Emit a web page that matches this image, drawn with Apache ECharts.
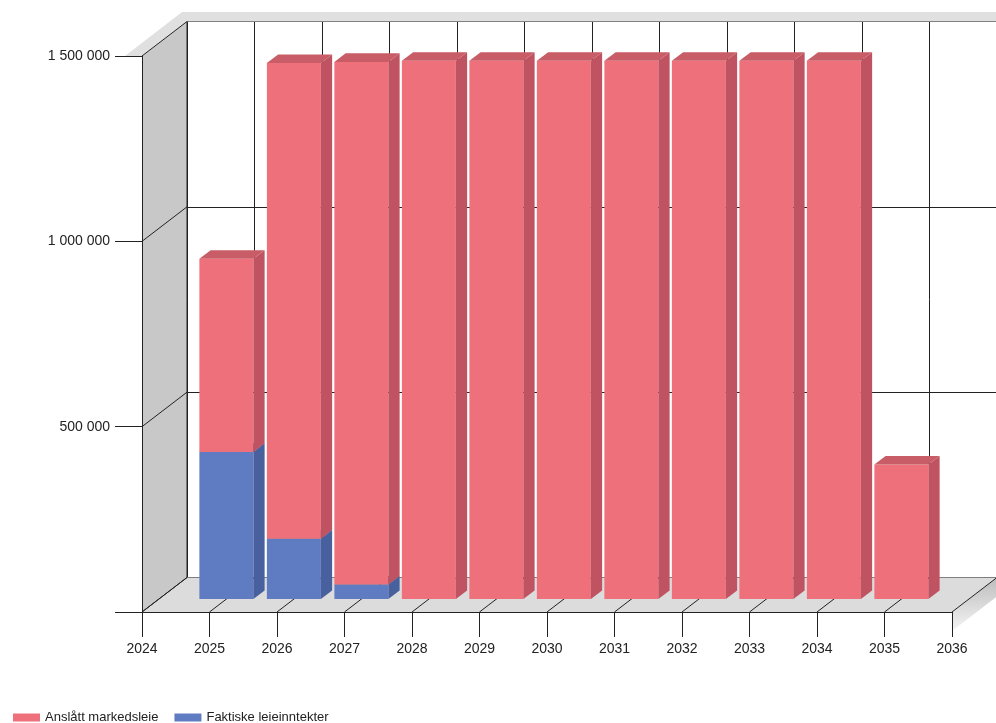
<!DOCTYPE html>
<html>
<head>
<meta charset="UTF-8">
<title>Leieinntekter</title>
<script src="https://cdn.jsdelivr.net/npm/echarts@6/dist/echarts.min.js"></script>
<style>html,body{margin:0;padding:0;background:#fff;}</style>
</head>
<body>
<div id="chart" style="width:996px;height:723px;"></div>
<script>
// verdier lest av figuren
var years = [2025, 2026, 2027, 2028, 2029, 2030, 2031, 2032, 2033, 2034, 2035];
var faktiske = [397000, 163000, 39000, 0, 0, 0, 0, 0, 0, 0, 0];
var anslatt = [521000, 1283000, 1410000, 1452000, 1452000, 1452000, 1452000, 1452000, 1452000, 1452000, 363000];
var xMin = 2024, xMax = 2036;
var yMax = 1500000, yStep = 500000;
var names = ['Anslått markedsleie', 'Faktiske leieinntekter'];

// skrå projeksjon (piksler fra front til bakvegg)
var DX = 45, DY = -34.5;
var LINE = '#222';

var chart = echarts.init(document.getElementById('chart'));

// stablet: blå nederst, rød oppå
var blueData = [], redData = [];
for (var i = 0; i < years.length; i++) {
	blueData.push([years[i], 0, faktiske[i]]);
	redData.push([years[i], faktiske[i], faktiske[i] + anslatt[i]]);
}

function fmt(v) {
	if (v === 0) return '';
	return String(v).replace(/\B(?=(\d{3})+(?!\d))/g, ' ');
}

function line(a, b) {
	return {type: 'line', shape: {x1: a[0], y1: a[1], x2: b[0], y2: b[1]}, style: {stroke: LINE, lineWidth: 1}};
}

// vegger og gulv
function backItem(params, api) {
	var o = api.coord([xMin, 0]), e = api.coord([xMax, 0]), t = api.coord([xMin, yMax]);
	var kids = [];
	kids.push({type: 'polygon', shape: {points: [[t[0], t[1]], [t[0] + DX, t[1] + DY], [o[0] + DX, o[1] + DY], [o[0], o[1]]]},
		style: {fill: '#c8c8c8'}});
	kids.push({type: 'polygon', shape: {points: [[o[0], o[1]], [e[0], e[1]], [e[0] + DX, e[1] + DY], [o[0] + DX, o[1] + DY]]},
		style: {fill: '#dcdcdc'}});
	kids.push({type: 'polygon', shape: {points: [[e[0], e[1]], [e[0] + DX, e[1] + DY], [e[0] + DX, e[1] + DY + 19], [e[0], e[1] + 19]]},
		style: {fill: new echarts.graphic.LinearGradient(0, 0, 0, 1, [{offset: 0, color: '#bdbdbd'}, {offset: 1, color: '#f4f4f4'}])}});
	kids.push({type: 'polygon', shape: {points: [[t[0] - 17, t[1]], [t[0], t[1]], [t[0] + DX, t[1] + DY], [e[0] + DX + 10, t[1] + DY],
		[e[0] + DX + 10, t[1] + DY - 9.5], [t[0] + DX - 5, t[1] + DY - 9.5]]}, style: {fill: '#e0e0e0'}});
	for (var v = 0; v <= yMax; v += yStep) {
		var p = api.coord([xMin, v]);
		kids.push(line(p, [p[0] + DX, p[1] + DY]));
	}
	for (var x = xMin; x <= xMax; x++) {
		var q = api.coord([x, 0]);
		kids.push(line(q, [q[0] + DX, q[1] + DY]));
	}
	kids.push(line([t[0] + DX, t[1] + DY], [o[0] + DX, o[1] + DY]));
	return {type: 'group', children: kids};
}

function barItem(front, side, top) {
	return function (params, api) {
		var x = api.value(0), y0 = api.value(1), y1 = api.value(2);
		if (y1 <= y0) return;
		var w = api.size([1, 0])[0] * 0.8;
		var b = api.coord([x, y0]), t = api.coord([x, y1]);
		var f = 0.375, k = 0.625;
		var L = b[0] - w / 2 + f * DX, R = b[0] + w / 2 + f * DX;
		var yb = b[1] + f * DY, yt = t[1] + f * DY;
		var ox = (k - f) * DX, oy = (k - f) * DY;
		return {type: 'group', children: [
			{type: 'rect', shape: {x: L, y: yt, width: R - L, height: yb - yt}, style: {fill: front}},
			{type: 'polygon', shape: {points: [[R, yb], [R + ox, yb + oy], [R + ox, yt + oy], [R, yt]]}, style: {fill: side}},
			{type: 'polygon', shape: {points: [[L, yt], [R, yt], [R + ox, yt + oy], [L + ox, yt + oy]]}, style: {fill: top}}
		]};
	};
}

var axisText = {color: '#222', fontFamily: 'Liberation Sans', fontSize: 14};

var option = {
	backgroundColor: '#fff',
	animation: false,
	grid: [
		{left: 142, top: 56, width: 810, height: 556, outerBoundsMode: 'none', containLabel: false},
		{left: 142 + DX, top: 56 + DY, width: 810, height: 556, outerBoundsMode: 'none', containLabel: false}
	],
	legend: {
		data: names,
		left: 8,
		top: 706,
		icon: 'rect',
		itemWidth: 27,
		itemHeight: 8,
		itemGap: 16,
		textStyle: {color: '#222', fontFamily: 'Liberation Sans', fontSize: 13}
	},
	xAxis: [
		{gridIndex: 0, type: 'value', min: xMin, max: xMax, interval: 1, z: 5,
			axisLine: {show: true, lineStyle: {color: LINE, width: 1}},
			axisTick: {show: true, length: 25, lineStyle: {color: LINE}},
			axisLabel: {show: true, margin: 30, showMinLabel: true, showMaxLabel: true, formatter: function (v) { return String(v); }, ...axisText},
			splitLine: {show: false}},
		{gridIndex: 1, type: 'value', min: xMin, max: xMax, interval: 1,
			axisLine: {show: true, lineStyle: {color: LINE, width: 1}},
			axisTick: {show: false}, axisLabel: {show: false},
			splitLine: {show: true, lineStyle: {color: LINE, width: 1}}}
	],
	yAxis: [
		{gridIndex: 0, type: 'value', min: 0, max: yMax, interval: yStep, z: 5,
			axisLine: {show: true, lineStyle: {color: LINE, width: 1}},
			axisTick: {show: true, length: 27, lineStyle: {color: LINE}},
			axisLabel: {show: true, margin: 32, formatter: fmt, ...axisText},
			splitLine: {show: false}},
		{gridIndex: 1, type: 'value', min: 0, max: yMax, interval: yStep,
			axisLine: {show: true, lineStyle: {color: LINE, width: 1}},
			axisTick: {show: false}, axisLabel: {show: false},
			splitLine: {show: true, lineStyle: {color: LINE, width: 1}}}
	],
	series: [
		{type: 'custom', name: 'bakgrunn', xAxisIndex: 0, yAxisIndex: 0, z: 1, clip: false, silent: true,
			data: [[xMin, 0]], renderItem: backItem},
		{type: 'custom', name: names[1], xAxisIndex: 0, yAxisIndex: 0, z: 3, clip: false,
			itemStyle: {color: '#5f7cc2'}, data: blueData, renderItem: barItem('#5f7cc2', '#48609e', '#52699f')},
		{type: 'custom', name: names[0], xAxisIndex: 0, yAxisIndex: 0, z: 3, clip: false,
			itemStyle: {color: '#ee707b'}, data: redData, renderItem: barItem('#ee707b', '#c05361', '#c85c67')}
	]
};

chart.setOption(option);
</script>
</body>
</html>
